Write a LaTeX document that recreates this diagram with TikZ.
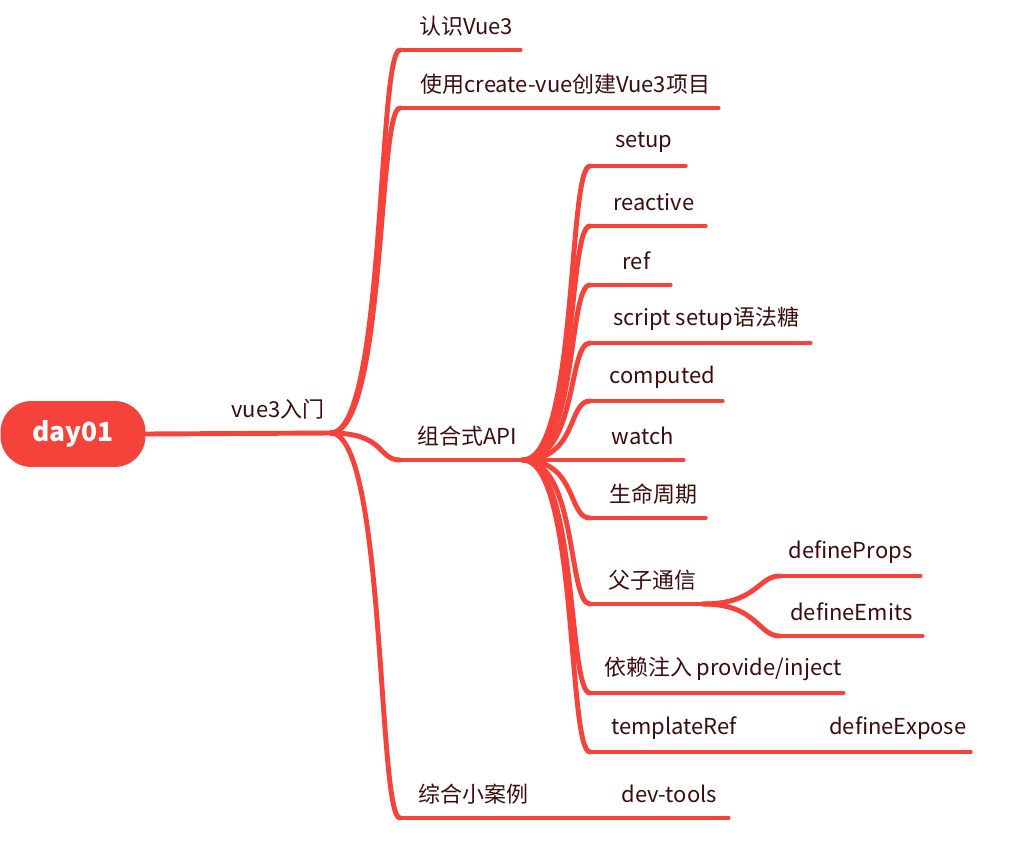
\documentclass[tikz,border=0pt]{standalone}
\usepackage{fontspec}
\setmainfont{Noto Sans CJK SC}
\usetikzlibrary{calc,positioning}
\definecolor{mapred}{RGB}{245,66,58}
\definecolor{maptext}{RGB}{60,12,12}

\begin{document}
\begin{tikzpicture}[x=0.02cm,y=-0.02cm,
  leaf/.style={anchor=south west,minimum width=#1,minimum height=0.94cm,inner xsep=1pt,inner ysep=0pt,text=maptext,font=\fontsize{12.5}{14}\selectfont},
  topic/.style={leaf=#1,execute at begin node=\hspace*{0.24cm}},
  uline/.style={draw=mapred,line width=2.2pt,line cap=round},
  link/.style={draw=mapred,line width=2.8pt,line cap=round},
  branch/.style={link,out=0,in=180,out distance=1.1cm,in distance=0.45cm}]

\useasboundingbox (0,0) rectangle (1015,845);
\coordinate (ORIGIN) at (0,0);

% root
\node[rectangle,rounded corners=0.62cm,fill=mapred,minimum width=2.9cm,minimum height=1.32cm,text=white,font=\fontsize{15}{18}\selectfont\bfseries] at ($(ORIGIN)+(73,434)$) (DAY) {day01};
\node[leaf=2.1cm] at ($(ORIGIN)+(225,433)$) (INTRO) {vue3入门};
\draw[link] (DAY.east) -- (INTRO.south east);

%%%%%%%%%%%%%%%%%%%
% first level
\node[topic=2.4cm] at ($(ORIGIN)+(400,50)$) (KNOW) {认识Vue3};
\node[topic=6.36cm] at ($(ORIGIN)+(400,108)$) (CREATE) {使用create-vue创建Vue3项目};
\node[topic=2.44cm] at ($(ORIGIN)+(400,460)$) (COMP) {组合式API};
\node[topic=2.7cm] at ($(ORIGIN)+(400,818)$) (CASE) {综合小案例};

\foreach \n in {KNOW,CREATE,COMP,CASE}
  \draw[branch] (INTRO.south east) to (\n.south west);

%%%%%%%%%%%%%%%%%%%
% composition api
\node[topic=1.9cm] at ($(ORIGIN)+(590,166)$) (SETUP) {setup};
\node[topic=2.3cm] at ($(ORIGIN)+(590,226)$) (REACTIVE) {reactive};
\node[topic=1.6cm] at ($(ORIGIN)+(590,285)$) (REF) {ref};
\node[topic=4.4cm] at ($(ORIGIN)+(590,343)$) (SUGAR) {script setup语法糖};
\node[topic=2.64cm] at ($(ORIGIN)+(590,401)$) (COMPUTED) {computed};
\node[topic=1.86cm] at ($(ORIGIN)+(590,460)$) (WATCH) {watch};
\node[topic=2.3cm] at ($(ORIGIN)+(590,518)$) (LIFE) {生命周期};
\node[topic=2.24cm] at ($(ORIGIN)+(590,604)$) (PARENT) {父子通信};
\node[topic=5.06cm] at ($(ORIGIN)+(590,693)$) (INJECT) {依赖注入 provide/inject};
\node[topic=3.1cm] at ($(ORIGIN)+(590,752)$) (TREF) {templateRef};

\foreach \n in {SETUP,REACTIVE,REF,SUGAR,COMPUTED,WATCH,LIFE,PARENT,INJECT,TREF}
  \draw[branch] (COMP.south east) to (\n.south west);

% parent and child
\node[leaf=2.8cm] at ($(ORIGIN)+(780,576)$) (PROPS) {defineProps};
\node[leaf=2.84cm] at ($(ORIGIN)+(780,636)$) (EMITS) {defineEmits};
\draw[branch] (PARENT.south east) to (PROPS.south west);
\draw[branch] (PARENT.south east) to (EMITS.south west);

% straight ones
\node[leaf=2.9cm] at ($(ORIGIN)+(825,752)$) (EXPOSE) {defineExpose};
\node[leaf=2.36cm] at ($(ORIGIN)+(610,818)$) (DEVTOOLS) {dev-tools};
\draw[link] (TREF.south east) -- (EXPOSE.south west);
\draw[link] (CASE.south east) -- (DEVTOOLS.south west);

% underlines
\foreach \n in {KNOW,CREATE,COMP,CASE,SETUP,REACTIVE,REF,SUGAR,COMPUTED,WATCH,LIFE,PARENT,INJECT,TREF,PROPS,EMITS,EXPOSE,DEVTOOLS}
  \draw[uline] (\n.south west) -- (\n.south east);

\end{tikzpicture}
\end{document}
